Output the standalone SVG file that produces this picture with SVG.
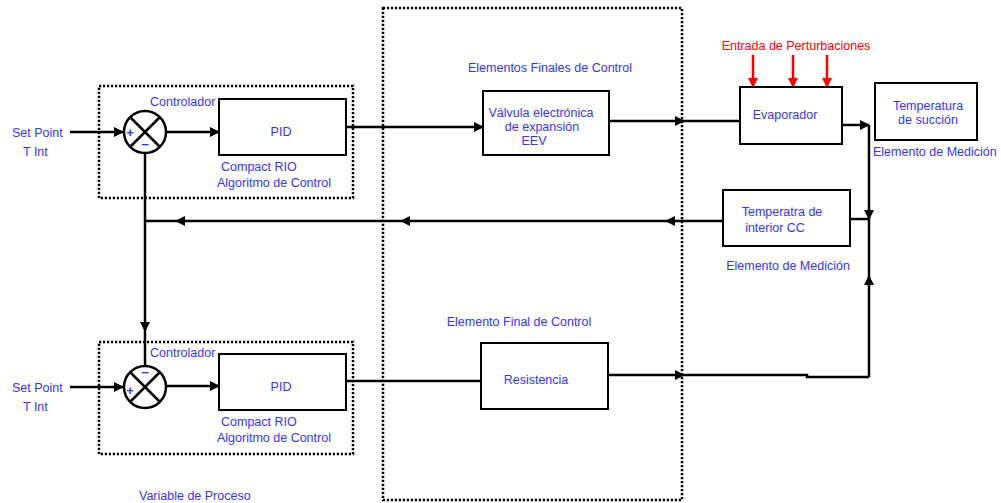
<svg xmlns="http://www.w3.org/2000/svg" width="1001" height="503" viewBox="0 0 1001 503">
<style>
text{font-family:"Liberation Sans",Arial,sans-serif;font-size:12.5px;fill:#3535f5}
.c{text-anchor:middle}
.red{fill:#ff0000}
.dash{fill:none;stroke:#000;stroke-width:2.5;stroke-dasharray:2.2 1.8}
.box{fill:#fff;stroke:#000;stroke-width:2}
.ln{fill:none;stroke:#000;stroke-width:2.5}
.rd{fill:none;stroke:#ff0000;stroke-width:2.5}
.sign{font-size:13px;font-weight:bold}
</style>
<defs>
<marker id="ah" viewBox="0 0 10 10" refX="9" refY="5" markerWidth="4" markerHeight="4" orient="auto" markerUnits="strokeWidth">
<path d="M0,0 L10,5 L0,10 z" fill="#000"/>
</marker>
<marker id="ahr" viewBox="0 0 10 10" refX="9" refY="5" markerWidth="4" markerHeight="4" orient="auto" markerUnits="strokeWidth">
<path d="M0,0 L10,5 L0,10 z" fill="#ff0000"/>
</marker>
</defs>
<rect width="1001" height="503" fill="#fff"/>

<g id="frames">
<rect class="dash" x="99" y="86" width="254" height="112"/>
<rect class="dash" x="99" y="342" width="254" height="112"/>
<rect class="dash" x="383" y="8" width="299" height="492"/>
</g>

<g id="connectors">
<path class="ln" d="M70,132 H123" marker-end="url(#ah)"/>
<path class="ln" d="M167,132 H219" marker-end="url(#ah)"/>
<path class="ln" d="M346,127 H483" marker-end="url(#ah)"/>
<path class="ln" d="M609,121 H684" marker-end="url(#ah)"/>
<path class="ln" d="M684,121 H740"/>
<path class="ln" d="M842,125 H869" marker-end="url(#ah)"/>
<path class="ln" d="M869,125 V219" marker-end="url(#ah)"/>
<path class="ln" d="M869,377 V276" marker-end="url(#ah)"/>
<path class="ln" d="M869,276 V219 H850"/>
<path class="ln" d="M723,221 H666" marker-end="url(#ah)"/>
<path class="ln" d="M666,221 H401" marker-end="url(#ah)"/>
<path class="ln" d="M401,221 H176" marker-end="url(#ah)"/>
<path class="ln" d="M176,221 H145"/>
<path class="ln" d="M145,221 V153"/>
<path class="ln" d="M145,221 V331" marker-end="url(#ah)"/>
<path class="ln" d="M145,331 V366"/>
<path class="ln" d="M70,387 H123" marker-end="url(#ah)"/>
<path class="ln" d="M167,386 H219" marker-end="url(#ah)"/>
<path class="ln" d="M346,381 H481"/>
<path class="ln" d="M608,375 H684" marker-end="url(#ah)"/>
<path class="ln" d="M684,375 H807 V377 H869"/>
<path class="rd" d="M753,55 V87" marker-end="url(#ahr)"/>
<path class="rd" d="M793,55 V87" marker-end="url(#ahr)"/>
<path class="rd" d="M827,55 V87" marker-end="url(#ahr)"/>
</g>

<g id="sum1">
<circle cx="145" cy="132" r="21" fill="#fff" stroke="#000" stroke-width="2.5"/>
<path d="M130,117 L160,147 M160,117 L130,147" stroke="#000" stroke-width="2.5"/>
<text class="sign" x="130" y="137" text-anchor="middle">+</text>
<text class="sign" x="145" y="149" text-anchor="middle">−</text>
</g>
<g id="pid1">
<rect class="box" x="219" y="99" width="127" height="56"/>
<text class="c" x="281" y="136">PID</text>
</g>
<text x="150" y="106">Controlador</text>
<text x="221" y="171">Compact RIO</text>
<text x="217" y="187">Algoritmo de Control</text>
<text x="12" y="137">Set Point</text>
<text x="23" y="156">T Int</text>

<g id="sum2">
<circle cx="145" cy="387" r="21" fill="#fff" stroke="#000" stroke-width="2.5"/>
<path d="M130,372 L160,402 M160,372 L130,402" stroke="#000" stroke-width="2.5"/>
<text class="sign" x="130" y="395" text-anchor="middle">+</text>
<text class="sign" x="145" y="377" text-anchor="middle">−</text>
</g>
<g id="pid2">
<rect class="box" x="219" y="354" width="127" height="56"/>
<text class="c" x="281" y="391">PID</text>
</g>
<text x="150" y="357">Controlador</text>
<text x="221" y="426">Compact RIO</text>
<text x="217" y="442">Algoritmo de Control</text>
<text x="12" y="392">Set Point</text>
<text x="23" y="411">T Int</text>

<text class="c" x="550" y="72">Elementos Finales de Control</text>
<g id="eev">
<rect class="box" x="483" y="91" width="126" height="64"/>
<text class="c" x="541" y="117">Válvula electrónica</text>
<text class="c" x="542" y="131">de expansión</text>
<text class="c" x="534" y="145">EEV</text>
</g>

<text class="c red" x="796" y="50">Entrada de Perturbaciones</text>
<g id="evap">
<rect class="box" x="740" y="87" width="102" height="57"/>
<text class="c" x="785" y="119">Evaporador</text>
</g>
<g id="tsuc">
<rect class="box" x="875" y="83" width="102" height="57"/>
<text class="c" x="928" y="110">Temperatura</text>
<text class="c" x="928" y="124">de succión</text>
</g>
<text x="873" y="156">Elemento de Medición</text>

<g id="tint">
<rect class="box" x="723" y="190" width="127" height="56"/>
<text class="c" x="782" y="216">Temperatra  de</text>
<text class="c" x="775" y="232">interior CC</text>
</g>
<text class="c" x="788" y="270">Elemento de Medición</text>

<text class="c" x="519" y="326">Elemento Final de Control</text>
<g id="res">
<rect class="box" x="481" y="343" width="127" height="66"/>
<text class="c" x="536" y="384">Resistencia</text>
</g>

<text x="139" y="500">Variable de Proceso</text>
</svg>
